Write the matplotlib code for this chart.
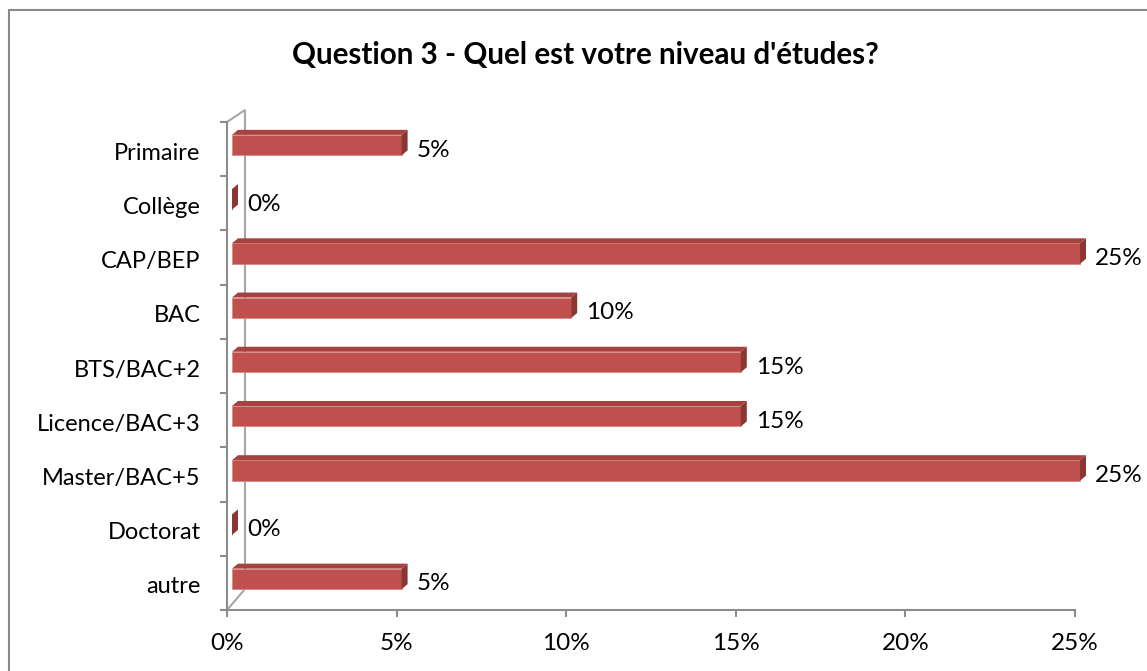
import matplotlib
matplotlib.use("Agg")
import matplotlib.pyplot as plt
import matplotlib.transforms as mtransforms
from matplotlib.patches import Polygon, Rectangle
from matplotlib.ticker import FixedLocator, FuncFormatter

categories = ["Primaire", "Collège", "CAP/BEP", "BAC", "BTS/BAC+2",
              "Licence/BAC+3", "Master/BAC+5", "Doctorat", "autre"]
values = [5, 0, 25, 10, 15, 15, 25, 0, 5]
value_labels = ["5%", "0%", "25%", "10%", "15%", "15%", "25%", "0%", "5%"]
xticks = [0, 5, 10, 15, 20, 25]
title = "Question 3 - Quel est votre niveau d'études?"

W, H = 1147, 671
FONT = "Lato"
FS = 17
fig = plt.figure(figsize=(W / 100, H / 100), dpi=100)

# axes spans pixel x 227..1075 and y 122..610
L, R, T, B = 227, 1075, 122, 610
ax = fig.add_axes([L / W, (H - B) / H, (R - L) / W, (B - T) / H])
ax.set_xlim(0, 25)
ax.set_ylim(len(categories) - 0.5, -0.5)
sx = (R - L) / 25.0
sy = (B - T) / len(categories)

front = "#C0504D"
top_c = "#A5423F"
side_c = "#8A3633"
axis_c = "#8C8C8C"

x0 = 5 / sx
dx = 6 / sx
dy = 5 / sy
hh = 20.5 / sy
ys = list(range(len(categories)))
centers = [y - 4 / sy for y in ys]

bars = ax.barh(centers, values, left=x0, height=hh, color=front,
               edgecolor="#D88A88", linewidth=0.6, zorder=3)
for b in bars:
    b.set_clip_on(False)
for yc, v, lab in zip(centers, values, value_labels):
    yt = yc - hh / 2
    yb = yc + hh / 2
    if v > 0:
        ax.add_patch(Polygon([(x0, yt), (x0 + v, yt), (x0 + v + dx, yt - dy),
                              (x0 + dx, yt - dy)], closed=True,
                             facecolor=top_c, edgecolor="none", zorder=3,
                             clip_on=False))
    ax.add_patch(Polygon([(x0 + v, yt), (x0 + v + dx, yt - dy),
                          (x0 + v + dx, yb - dy), (x0 + v, yb)], closed=True,
                         facecolor=side_c, edgecolor="none", zorder=3,
                         clip_on=False))
    ax.text(x0 + v + dx + 9 / sx, yc + 5 / sy, lab, ha="left", va="center",
            fontsize=FS + 0.5, family=FONT, color="black", zorder=4,
            clip_on=False)

# back wall lines
bx = 18 / sx
ax.plot([0, bx, bx, 0], [-0.5, -0.5 - 12 / sy, len(categories) - 0.5 - 21 / sy,
                         len(categories) - 0.5],
        color="#A6A6A6", lw=1.5, clip_on=False, zorder=1, solid_joinstyle="miter")

for s in ["top", "right"]:
    ax.spines[s].set_visible(False)
for s in ["left", "bottom"]:
    ax.spines[s].set_color(axis_c)
    ax.spines[s].set_linewidth(1.5)
    ax.spines[s].set_zorder(2)

ax.set_xticks(xticks)
ax.xaxis.set_major_formatter(FuncFormatter(lambda v, p: f"{int(v)}%"))
ax.tick_params(axis="x", length=5, width=1.5, color=axis_c, pad=11.5,
               labelsize=FS + 0.5)
ax.set_yticks(ys)
ax.set_yticklabels(categories)
ax.yaxis.set_minor_locator(FixedLocator([y - 0.5 for y in ys] + [len(ys) - 0.5]))
ax.tick_params(axis="y", which="major", length=0, pad=19, labelsize=FS)
ax.tick_params(axis="y", which="minor", length=5, width=1.5, color=axis_c)
shift = mtransforms.ScaledTranslation(0, -2 / 100, fig.dpi_scale_trans)
for lab in ax.get_yticklabels():
    lab.set_transform(lab.get_transform() + shift)
for lab in ax.get_xticklabels() + ax.get_yticklabels():
    lab.set_family(FONT)
ax.patch.set_visible(False)

fig.text(585 / W, (H - 55) / H, title, ha="center", va="center",
         fontsize=21.3, fontweight="bold", family=FONT)

fig.add_artist(Rectangle((9 / W, -0.1), 1.2, (H - 10) / H + 0.1,
                         transform=fig.transFigure, fill=False,
                         edgecolor="#898989", lw=1.5))

fig.savefig("out.png", dpi=100)
